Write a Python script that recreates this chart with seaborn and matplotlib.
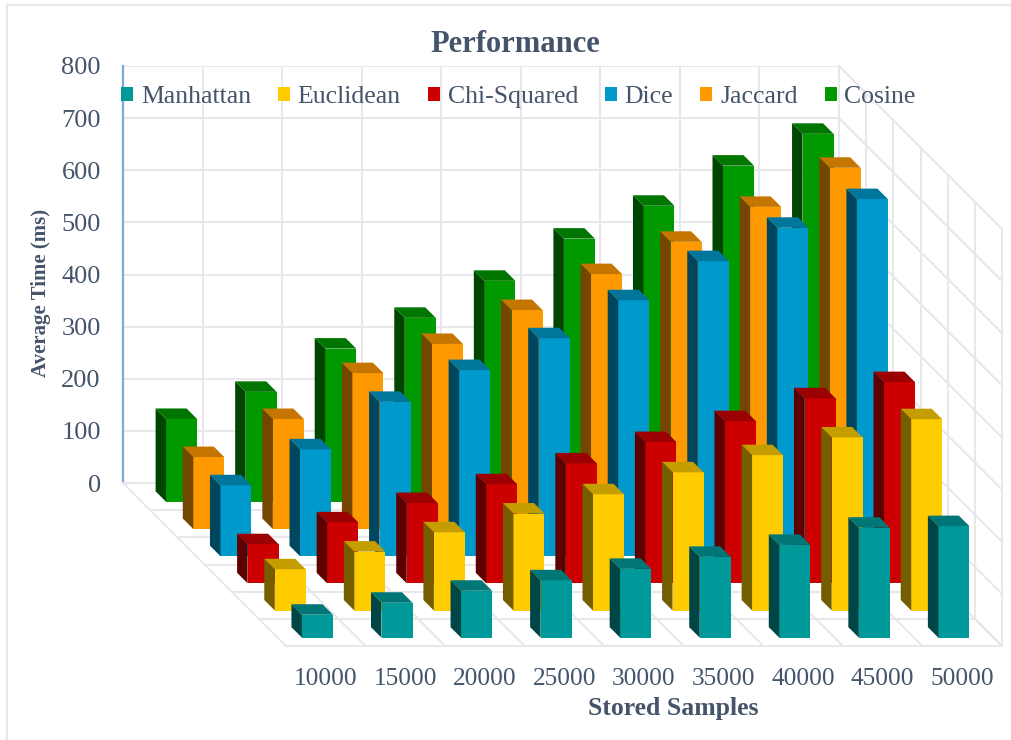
import numpy as np
import pandas as pd
import matplotlib
matplotlib.use("Agg")
import matplotlib.pyplot as plt
import seaborn as sns
from matplotlib.lines import Line2D
from matplotlib.patches import Patch, Polygon
from matplotlib.transforms import Affine2D

samples = ["10000", "15000", "20000", "25000", "30000", "35000", "40000", "45000", "50000"]
ticks_ms = [0, 100, 200, 300, 400, 500, 600, 700, 800]

manhattan = [44, 67, 90, 110, 132, 155, 178, 211, 214]
euclidean = [79, 113, 150, 186, 223, 265, 298, 332, 367]
chi_squared = [75, 117, 154, 190, 230, 271, 311, 355, 386]
dice = [136, 205, 296, 357, 418, 491, 566, 630, 685]
jaccard = [138, 211, 299, 355, 420, 489, 551, 618, 693]
cosine = [159, 211, 294, 353, 424, 505, 568, 645, 706]

names = ["Manhattan", "Euclidean", "Chi-Squared", "Dice", "Jaccard", "Cosine"]
series = [manhattan, euclidean, chi_squared, dice, jaccard, cosine]
colors = ["#009999", "#FFCC00", "#CC0000", "#0099CC", "#FF9900", "#009900"]

# pixel layout of the oblique box
W, H = 1011, 740
back_x, back_y = 123, 483
top_y = 66
depth = 163
box_w = 716
cat_w = box_w / 9
ms_px = (back_y - top_y) / 800
slot = depth / 6
bar_d = 10.5
bar_w = 31 / cat_w
grid_c = "#e8e8ec"
txt_c = "#44546a"


def shade(c, f):
    r = matplotlib.colors.to_rgb(c)
    return tuple(v * f for v in r)


def shift(d):
    # depth in px -> data offset on the front plane
    return -d / cat_w, d / ms_px


sns.set_theme(style="white")
plt.rcParams["font.family"] = ["Liberation Serif", "DejaVu Serif"]
fig = plt.figure(figsize=(W / 100, H / 100), dpi=100)
fig.patch.set_facecolor("white")

# faint frame of the pasted picture, top and left only
fig.add_artist(Line2D([7 / W, 7 / W, 1], [0, 1 - 5 / H, 1 - 5 / H], color="#e8e8e8", lw=1.6))

# back wall
ax = fig.add_axes([back_x / W, 1 - back_y / H, box_w / W, (back_y - top_y) / H])
ax.set_xlim(0, 9)
ax.set_ylim(0, 800)
ax.set_yticks(ticks_ms)
ax.set_xticks(range(10))
ax.grid(True, color=grid_c, lw=1.5)
ax.set_axisbelow(True)
ax.tick_params(axis="y", length=0, pad=16, labelsize=19, labelcolor=txt_c)
ax.tick_params(axis="x", length=0, labelbottom=False)
for s in ["top", "right", "bottom"]:
    ax.spines[s].set_visible(False)
ax.spines["left"].set_color("#7fa9d6")
ax.spines["left"].set_linewidth(1.6)
ax.set_ylabel("Average Time (ms)", fontsize=15, fontweight="bold", color=txt_c, va="center")
ax.yaxis.set_label_coords(-(back_x - 41) / box_w, (back_y - 293) / (back_y - top_y))

# front plane, bars live here
fx = fig.add_axes([(back_x + depth) / W, 1 - (back_y + depth) / H, box_w / W, (back_y - top_y) / H])
fx.patch.set_alpha(0)

# floor and side wall grid
dx, dy = shift(depth)
for i in range(10):
    fx.plot([i - 0.5, i - 0.5 + dx], [0, dy], color=grid_c, lw=1.5, clip_on=False, zorder=0)
for k in range(7):
    sx, sy = shift(slot * k)
    fx.plot([-0.5 + sx, 8.5 + sx], [sy, sy], color=grid_c, lw=1.5, clip_on=False, zorder=0)
    fx.plot([8.5 + sx, 8.5 + sx], [sy, sy + 800], color=grid_c, lw=1.5, clip_on=False, zorder=0)
for v in ticks_ms:
    fx.plot([8.5, 8.5 + dx], [v, v + dy], color=grid_c, lw=1.5, clip_on=False, zorder=0)

# back row first so the nearer bars cover it
for j in range(5, -1, -1):
    d0 = (slot - bar_d) / 2 + slot * j
    ox, oy = shift(d0)
    bx, by = shift(d0 + bar_d)
    df = pd.DataFrame({"samples": samples, "ms": series[j]})
    tr = Affine2D().translate(ox, oy) + fx.transData
    sns.barplot(data=df, x="samples", y="ms", color=colors[j], saturation=1, width=bar_w,
                errorbar=None, ax=fx, transform=tr, clip_on=False, linewidth=0, zorder=1)
    for i, v in enumerate(series[j]):
        xl = i - bar_w / 2
        xr = i + bar_w / 2
        side = [(xl + ox, oy), (xl + ox, v + oy), (xl + bx, v + by), (xl + bx, by)]
        top = [(xl + ox, v + oy), (xr + ox, v + oy), (xr + bx, v + by), (xl + bx, v + by)]
        fx.add_patch(Polygon(side, fc=shade(colors[j], 0.46), ec="none", clip_on=False, zorder=1))
        fx.add_patch(Polygon(top, fc=shade(colors[j], 0.77), ec="none", clip_on=False, zorder=1))

fx.set_xlim(-0.5, 8.5)
fx.set_ylim(0, 800)
fx.set_yticks([])
fx.tick_params(axis="x", length=0, pad=16, labelsize=18.3, labelcolor=txt_c)
fx.set_ylabel("")
fx.set_xlabel("Stored Samples", fontsize=18.5, fontweight="bold", color=txt_c, va="center")
fx.xaxis.set_label_coords((673 - back_x - depth) / box_w, -(708 - back_y - depth) / (back_y - top_y))
sns.despine(ax=fx, left=True, bottom=True)

handles = [Patch(fc=c, ec="none") for c in colors]
leg = fig.legend(handles, names, ncol=6, frameon=False, fontsize=18.5, labelcolor=txt_c,
                 handlelength=0.47, handleheight=0.47, handletextpad=0.3, columnspacing=1.05,
                 loc="center left", bbox_to_anchor=(121 / W, 1 - 97 / H), borderpad=0, borderaxespad=0)

fig.text(515 / W, 1 - 44 / H, "Performance", fontsize=22, fontweight="bold", color=txt_c,
         ha="center", va="center")

fig.savefig("out.png", dpi=100)
